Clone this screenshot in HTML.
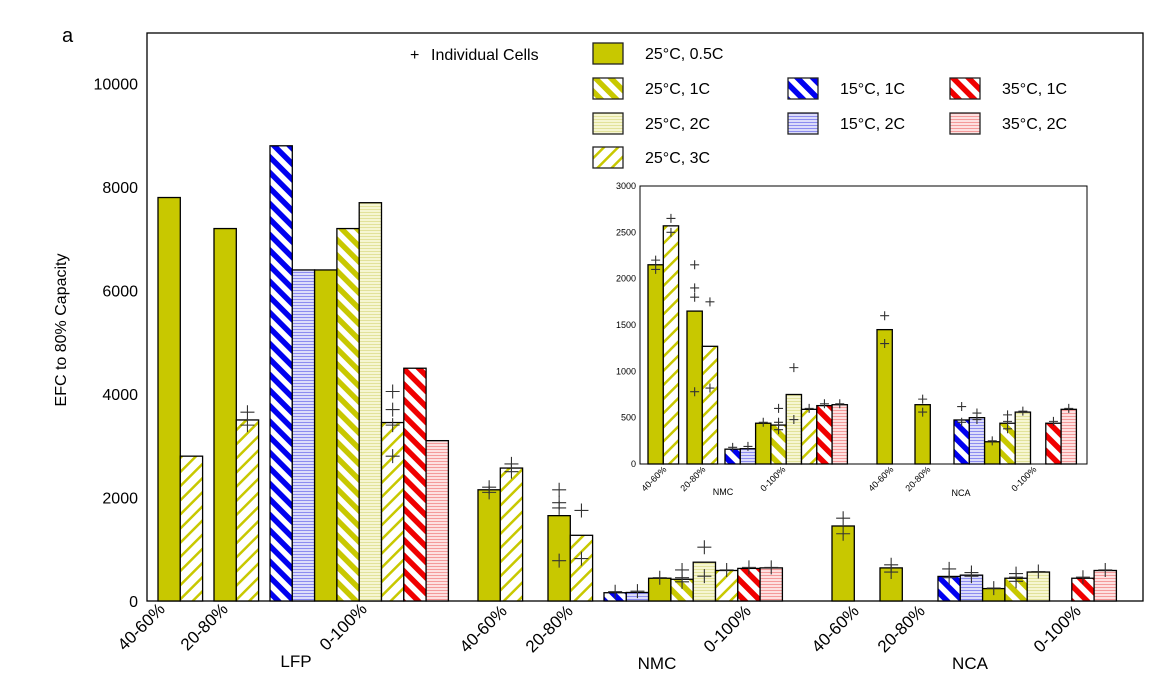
<!DOCTYPE html>
<html><head><meta charset="utf-8">
<style>
html,body{margin:0;padding:0;background:#fff;}
svg{display:block;font-family:"Liberation Sans",Arial,sans-serif;}
</style></head>
<body>
<svg id="chart" width="1169" height="677" viewBox="0 0 1169 677" xmlns="http://www.w3.org/2000/svg">
<defs>
  <pattern id="p-s1" patternUnits="userSpaceOnUse" width="11" height="11" patternTransform="rotate(-45)"><rect width="11" height="11" fill="#fff"/><rect width="5.5" height="11" fill="#c8c800"/></pattern>
  <pattern id="p-b1" patternUnits="userSpaceOnUse" width="11" height="11" patternTransform="rotate(-45)"><rect width="11" height="11" fill="#fff"/><rect width="5.5" height="11" fill="#0000f0"/></pattern>
  <pattern id="p-r1" patternUnits="userSpaceOnUse" width="11" height="11" patternTransform="rotate(-45)"><rect width="11" height="11" fill="#fff"/><rect width="5.5" height="11" fill="#f00000"/></pattern>
  <pattern id="p-s3" patternUnits="userSpaceOnUse" width="10" height="10" patternTransform="rotate(45)"><rect width="10" height="10" fill="#fff"/><rect width="2.5" height="10" fill="#c8c800"/></pattern>
  <pattern id="p-s2" patternUnits="userSpaceOnUse" width="4" height="3"><rect width="4" height="3" fill="#f6f6d2"/><rect y="2" width="4" height="1" fill="#e2e29a"/></pattern>
  <pattern id="p-b2" patternUnits="userSpaceOnUse" width="4" height="3"><rect width="4" height="3" fill="#dcdcfa"/><rect y="2" width="4" height="1" fill="#8c8cf0"/></pattern>
  <pattern id="p-r2" patternUnits="userSpaceOnUse" width="4" height="3"><rect width="4" height="3" fill="#fde0e0"/><rect y="2" width="4" height="1" fill="#f49a9a"/></pattern>
</defs>
<text x="62" y="42" font-size="20">a</text>
<rect x="147" y="33" width="996" height="568" fill="none" stroke="#000" stroke-width="1.3"/>
<text transform="translate(66,330) rotate(-90)" text-anchor="middle" font-size="16">EFC to 80% Capacity</text>
<g id="yticks"></g>
<g id="mainbars"></g>
<g id="mainlabels"></g>
<g id="legend"></g>
<rect x="640" y="186" width="447" height="278" fill="#fff" stroke="#000" stroke-width="1"/>
<g id="inset"></g>
</svg>
<script>
// ---- data ----
const groups = ["LFP 40-60%","LFP 20-80%","LFP 0-100%","NMC 40-60%","NMC 20-80%","NMC 0-100%","NCA 40-60%","NCA 20-80%","NCA 0-100%"];
const groupTicks = ["40-60%","20-80%","0-100%","40-60%","20-80%","0-100%","40-60%","20-80%","0-100%"];
const groupSeries = [
  ["s05","s3"],["s05","s3"],["b1","b2","s05","s1","s2","s3","r1","r2"],
  ["s05","s3"],["s05","s3"],["b1","b2","s05","s1","s2","s3","r1","r2"],
  ["s05"],["s05"],["b1","b2","s05","s1","s2","","r1","r2"]];
const groupValues = [
  [7800,2800],[7200,3500],[8800,6400,6400,7200,7700,3450,4500,3100],
  [2150,2570],[1650,1270],[160,165,440,420,750,590,630,640],
  [1450],[640],[475,500,240,440,560,0,440,590]];
const cellValues = [
  [[],[]],[[],[3650,3400]],[[],[],[],[],[],[4050,3700,3400,2800],[],[]],
  [[2200,2100],[2650,2500]],[[2150,1900,1800,780],[1750,820]],[[180],[190],[450],[600,450,370],[1040,480],[600],[650],[650]],
  [[1600,1300]],[[700,560]],[[620,450],[550,480],[250],[530,460,380],[570],[],[460],[600]]];
const mainYTicks = [0,2000,4000,6000,8000,10000];
const insetYTicks = [0,500,1000,1500,2000,2500,3000];
const categories = ["LFP","NMC","NCA"];
const legendLabels = {s05:"25°C, 0.5C",s1:"25°C, 1C",s2:"25°C, 2C",s3:"25°C, 3C",b1:"15°C, 1C",b2:"15°C, 2C",r1:"35°C, 1C",r2:"35°C, 2C"};

// ---- layout ----
const fills = {s05:"#c8c800",s1:"url(#p-s1)",s2:"url(#p-s2)",s3:"url(#p-s3)",b1:"url(#p-b1)",b2:"url(#p-b2)",r1:"url(#p-r1)",r2:"url(#p-r2)"};
const NS="http://www.w3.org/2000/svg";
function el(tag,attrs,parent){const e=document.createElementNS(NS,tag);for(const k in attrs)e.setAttribute(k,attrs[k]);parent.appendChild(e);return e;}
const mainY = v => 601 - v*(569/11000);
const insetY = v => 464 - v*(278/3000);
const mainStart=[158,214,270,478,548,604,832,880,938], mainW=22.3;
const insetStart=[null,null,null,648,687,725,877,915,954], insetW=15.3;
const mainLab=[[166,610],[229,610],[368,610],[508,612],[574,612],[752,612],[860,612],[926,612],[1082,612]];
const insetLab=[null,null,null,[667,470],[706,470],[786,470],[894,470],[931,470],[1037,470]];

const yt=document.getElementById('yticks');
mainYTicks.forEach(v=>{
  const t=el('text',{x:138,y:mainY(v)+6,'text-anchor':'end','font-size':16},yt);
  
  
  t.textContent=v;
});
function cross(g,x,y,s){
  const p=el('path',{d:`M${x-s} ${y}H${x+s}M${x} ${y-s}V${y+s}`,stroke:'#333','stroke-width':1.1,fill:'none'},g);
  
  
}
function drawBars(parent,starts,w,yf,cs,fromG){
  for(let gi=fromG;gi<groups.length;gi++){
    groupSeries[gi].forEach((s,si)=>{
      const x=starts[gi]+si*w;
      if(s){
        const v=groupValues[gi][si];
        const r=el('rect',{x:x,y:yf(v),width:w,height:yf(0)-yf(v),fill:fills[s],stroke:'#000','stroke-width':1.3},parent);
        
        
      }
      (cellValues[gi][si]||[]).forEach(c=>cross(parent,x+w/2,yf(c),cs));
    });
  }
}
const mb=document.getElementById('mainbars');
drawBars(mb,mainStart,mainW,mainY,7,0);
const ml=document.getElementById('mainlabels');
groupTicks.forEach((t,i)=>{
  const e=el('text',{transform:`translate(${mainLab[i][0]},${mainLab[i][1]}) rotate(-45)`,'text-anchor':'end','font-size':17},ml);
  
  
  e.textContent=t;
});
[[296,667],[657,669],[970,669]].forEach((p,i)=>{
  const e=el('text',{x:p[0],y:p[1],'text-anchor':'middle','font-size':17},ml);
  
  
  e.textContent=categories[i];
});
// legend
const lg=document.getElementById('legend');
const lp=el('text',{x:410,y:60,'font-size':16},lg);


lp.textContent='+';
const lt=el('text',{x:431,y:60,'font-size':16},lg);


lt.textContent='Individual Cells';
const legPos={s05:[593,43],s1:[593,78],s2:[593,113],s3:[593,147],b1:[788,78],b2:[788,113],r1:[950,78],r2:[950,113]};
for(const k in legPos){
  const [x,y]=legPos[k];
  const r=el('rect',{x:x,y:y,width:30,height:21,fill:fills[k],stroke:'#222','stroke-width':1.3},lg);
  
  
  const t=el('text',{x:x+52,y:y+16,'font-size':16},lg);
  
  
  t.textContent=legendLabels[k];
}
// inset
const ins=document.getElementById('inset');
insetYTicks.forEach(v=>{
  const t=el('text',{x:636,y:insetY(v)+3,'text-anchor':'end','font-size':9},ins);
  
  
  t.textContent=v;
});
drawBars(ins,insetStart,insetW,insetY,4.5,3);
for(let i=3;i<groupTicks.length;i++){
  const e=el('text',{transform:`translate(${insetLab[i][0]},${insetLab[i][1]}) rotate(-45)`,'text-anchor':'end','font-size':9},ins);
  
  
  e.textContent=groupTicks[i];
}
[[723,495],[961,496]].forEach((p,i)=>{
  const e=el('text',{x:p[0],y:p[1],'text-anchor':'middle','font-size':9},ins);
  
  
  e.textContent=categories[i+1];
});
</script>
</body></html>
